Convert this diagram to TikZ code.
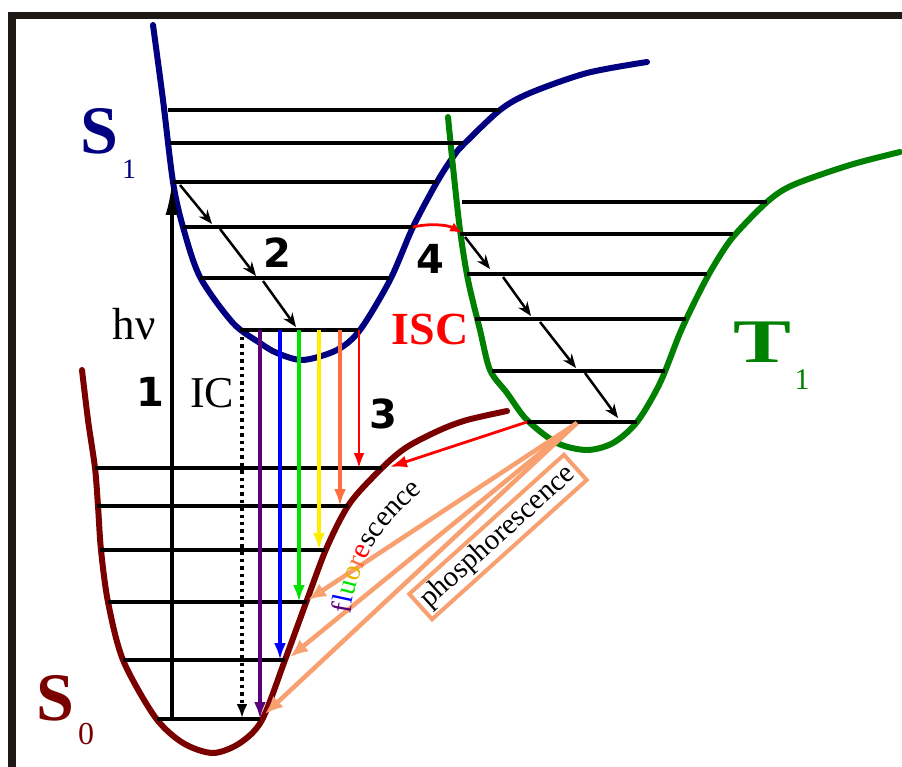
\documentclass[tikz,border=0pt]{standalone}
\usepackage{fontspec}
\setmainfont{Liberation Serif}
\newfontfamily\digitfont{DejaVu Sans}
\usetikzlibrary{arrows.meta,decorations.text}
\definecolor{sone}{RGB}{0,0,128}
\definecolor{szero}{RGB}{122,0,0}
\definecolor{tone}{RGB}{0,128,0}
\definecolor{phos}{RGB}{248,160,112}
\definecolor{fpurple}{RGB}{90,0,120}
\definecolor{fblue}{RGB}{0,0,255}
\definecolor{fgreen}{RGB}{0,225,0}
\definecolor{fyellow}{RGB}{255,238,0}
\definecolor{fgold}{RGB}{230,180,0}
\definecolor{forange}{RGB}{255,110,60}
\definecolor{fred}{RGB}{255,0,0}
\definecolor{framec}{RGB}{30,25,22}
\newcommand{\ffnt}{\fontsize{29}{29}\selectfont}
\begin{document}
\begin{tikzpicture}[x=1pt,y=-1pt,
  curve/.style={line width=6pt, line join=round, line cap=round},
  lvl/.style={line width=3.5pt, black},
  relax/.style={line width=2.5pt, black, -{Stealth[length=14pt,width=11pt]}},
  emit/.style={line width=3.4pt, -{Latex[length=17pt,width=12pt]}},
  phosarrow/.style={line width=4.5pt, phos, -{Latex[length=18pt,width=15pt]}},
  digit/.style={font=\digitfont\bfseries\fontsize{40}{40}\selectfont, inner sep=0pt},
  bigletter/.style={font=\bfseries\fontsize{68}{68}\selectfont, inner sep=0pt},
  subscr/.style={font=\fontsize{28}{28}\selectfont, inner sep=0pt}
]
\useasboundingbox (0,0) rectangle (902,767);
\fill[white] (0,0) rectangle (902,767);
% frame
\draw[line width=7.5pt, framec, line join=miter] (12,767) -- (12,15.5) -- (902,15.5);

% S1 curve
\draw[curve, sone] plot[smooth, tension=0.5] coordinates {(153,25) (163,100) (173,182) (183,227) (200,277) (233,323) (260,343) (277,353) (303,360) (337,350) (360,330) (390,280) (413,227) (437,182) (453,157) (463,145) (500,110) (530,93) (587,73) (647,62)};
% T1 curve
\draw[curve, tone] plot[smooth, tension=0.5] coordinates {(448,117) (453,167) (460,230) (468,280) (480,330) (490,370) (507,393) (527,420) (557,443) (587,450) (613,443) (637,422) (660,383) (680,333) (697,297) (713,267) (733,237) (767,202) (793,185) (850,165) (900,152)};
% S0 curve
\draw[curve, szero] plot[smooth, tension=0.5] coordinates {(82,370) (88,420) (95,468) (98,506) (101,550) (108,602) (123,660) (155,717) (183,743) (213,753) (240,743) (262,720) (285,660) (307,600) (327,547) (350,503) (383,467) (407,447) (440,430) (467,420) (507,411)};

% S1 levels
\draw[lvl] (168,110) -- (500,110);
\draw[lvl] (170,143) -- (463,143);
\draw[lvl] (173,182) -- (437,182);
\draw[lvl] (183,227) -- (413,227);
\draw[lvl] (200,278) -- (390,278);
\draw[lvl] (240,330) -- (358,330);
% S0 levels
\draw[lvl] (95,468) -- (382,468);
\draw[lvl] (97,506) -- (348,506);
\draw[lvl] (100,550) -- (325,550);
\draw[lvl] (108,602) -- (307,602);
\draw[lvl] (123,660) -- (285,660);
\draw[lvl] (157,719) -- (260,719);
% T1 levels
\draw[lvl] (462,202) -- (767,202);
\draw[lvl] (460,234) -- (733,234);
\draw[lvl] (467,274) -- (707,274);
\draw[lvl] (475,319) -- (686,319);
\draw[lvl] (492,371) -- (665,371);
\draw[lvl] (527,422) -- (637,422);

% absorption
\coordinate (abs0) at (172,719);
\coordinate (abs1) at (172,183);
\draw[line width=3.2pt, -{Latex[length=32pt,width=13pt]}] (abs0) -- (abs1);

% vibrational relaxation S1
\coordinate (r1a) at (180,185); \coordinate (r1b) at (212,224);
\coordinate (r2a) at (220,229); \coordinate (r2b) at (256,276);
\coordinate (r3a) at (263,281); \coordinate (r3b) at (296,327);
\draw[relax] (r1a) -- (r1b);
\draw[relax] (r2a) -- (r2b);
\draw[relax] (r3a) -- (r3b);
% vibrational relaxation T1
\coordinate (t1a) at (465,237); \coordinate (t1b) at (490,269);
\coordinate (t2a) at (503,277); \coordinate (t2b) at (531,316);
\coordinate (t3a) at (540,322); \coordinate (t3b) at (576,368);
\coordinate (t4a) at (585,373); \coordinate (t4b) at (618,418);
\draw[relax] (t1a) -- (t1b);
\draw[relax] (t2a) -- (t2b);
\draw[relax] (t3a) -- (t3b);
\draw[relax] (t4a) -- (t4b);

% IC dotted
\coordinate (ic0) at (242,337);
\coordinate (ic1) at (242,718);
\draw[line width=3.4pt, dash pattern=on 3.4pt off 4pt, -{Latex[length=14pt,width=11pt]}] (ic0) -- (ic1);

% fluorescence arrows
\coordinate (fa1) at (260,330); \coordinate (fb1) at (260,719);
\coordinate (fa2) at (280,330); \coordinate (fb2) at (280,660);
\coordinate (fa3) at (299,330); \coordinate (fb3) at (299,602);
\coordinate (fa4) at (319,330); \coordinate (fb4) at (319,550);
\coordinate (fa5) at (340,330); \coordinate (fb5) at (340,506);
\coordinate (fa6) at (359,330); \coordinate (fb6) at (359,468);
\draw[emit, fpurple] (fa1) -- (fb1);
\draw[emit, fblue] (fa2) -- (fb2);
\draw[emit, fgreen] (fa3) -- (fb3);
\draw[emit, fyellow] (fa4) -- (fb4);
\draw[emit, forange] (fa5) -- (fb5);
\draw[line width=2.6pt, fred, -{Latex[length=15pt,width=11pt]}] (fa6) -- (fb6);

% ISC arrows
\coordinate (isc0) at (413,227);
\coordinate (isc1) at (462,233);
\draw[line width=2.8pt, fred, -{Latex[length=12pt,width=10pt]}] (isc0) .. controls (430,223) and (448,225) .. (isc1);
\coordinate (isc2) at (527,422);
\coordinate (isc3) at (390,467);
\draw[line width=2.8pt, fred, -{Latex[length=17pt,width=12pt]}] (isc2) -- (isc3);

% phosphorescence arrows
\coordinate (ph0) at (577,423);
\coordinate (ph1) at (308,600);
\coordinate (ph2) at (290,657);
\coordinate (ph3) at (265,714);
\draw[phosarrow] (ph0) -- (ph1);
\draw[phosarrow] (ph0) -- (ph2);
\draw[phosarrow] (ph0) -- (ph3);

% phosphorescence box
\node[draw=phos, line width=4pt, rotate=42, font=\ffnt, inner xsep=5pt, minimum height=34pt, inner ysep=2pt] (phbox) at (498,537) {phosphorescence};

% fluorescence text
\path[decorate, decoration={text along path, text align=center,
  text={|\ffnt\color{fpurple}|f|\ffnt\color{fblue}|l|\ffnt\color{fgreen}|u|\ffnt\color{fgold}|o|\ffnt\color{forange}|r|\ffnt\color{fred}|e|\ffnt\color{black}|scence}}]
  (350,616) .. controls (357,572) and (372,532) .. (424,490);

% labels
\node[digit] (n1) at (150,392) {1};
\node[digit] (n2) at (277,253) {2};
\node[digit] (n3) at (383,414) {3};
\node[digit] (n4) at (430,259) {4};
\node[font=\fontsize{45}{45}\selectfont, inner sep=0pt] (hv) at (134,324) {hν};
\node[font=\fontsize{44}{44}\selectfont, inner sep=0pt] (ic) at (212,393) {IC};
\node[font=\bfseries\fontsize{46}{46}\selectfont, text=fred, inner sep=0pt] (isc) at (430,329) {ISC};

\node[bigletter, text=sone] (S1) at (99,131) {S};
\node[subscr, text=sone] (S1i) at (129,169) {1};
\node[bigletter, text=szero] (S0) at (55,698) {S};
\node[subscr, text=szero, font=\fontsize{32}{32}\selectfont] (S0i) at (86,734) {0};
\node[bigletter, text=tone, font=\bfseries\fontsize{62}{62}\selectfont, xscale=1.4] (T1) at (762,342) {T};
\node[subscr, text=tone, font=\fontsize{30}{30}\selectfont] (T1i) at (802,380) {1};
\end{tikzpicture}
\end{document}
